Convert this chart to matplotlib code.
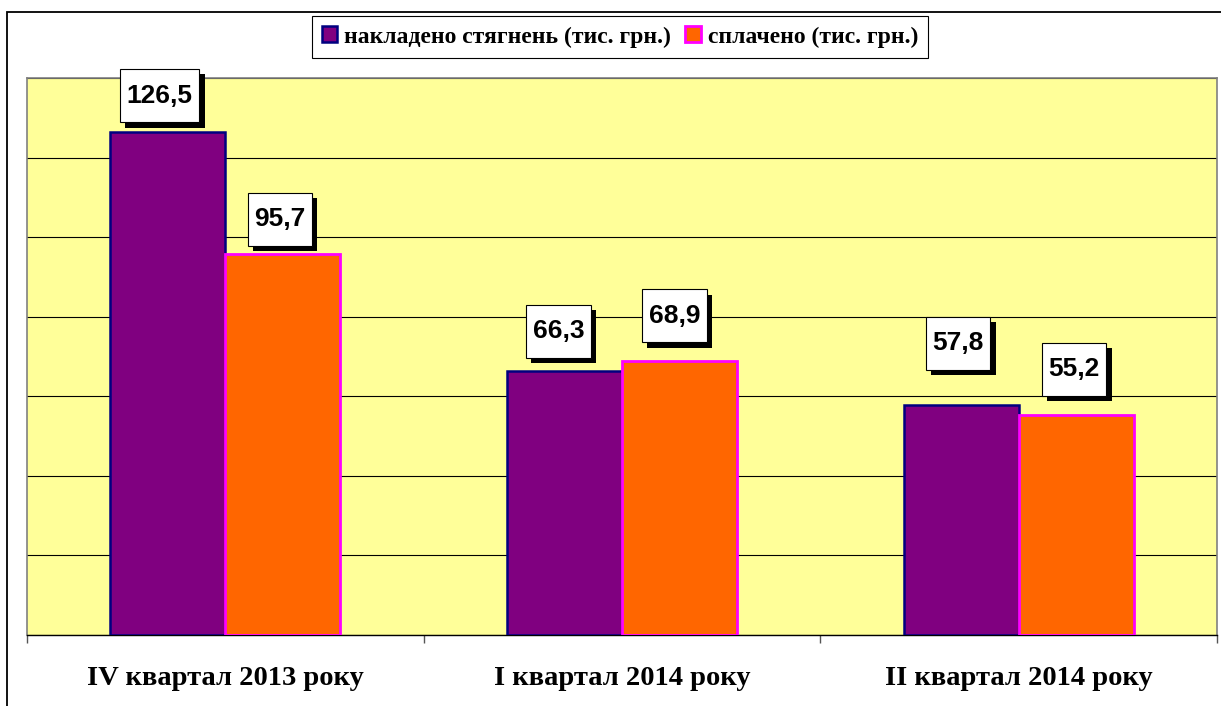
import matplotlib
matplotlib.use("Agg")
import matplotlib.pyplot as plt
import matplotlib.patheffects as pe
from matplotlib.patches import Patch, Rectangle
import numpy as np

# data
categories = ["IV квартал 2013 року", "I квартал 2014 року", "II квартал 2014 року"]
imposed = [126.5, 66.3, 57.8]   # накладено стягнень (тис. грн.)
paid = [95.7, 68.9, 55.2]       # сплачено (тис. грн.)
series_names = ["накладено стягнень (тис. грн.)", "сплачено (тис. грн.)"]

# label box offsets (pixels) from bar top, tuned by eye
imposed_offsets = [(-8, 36), (-6, 40), (-3, 62)]
paid_offsets = [(-3, 35), (-5, 45), (-2, 46)]

plt.rcParams["font.family"] = ["Liberation Sans", "DejaVu Sans"]

fig = plt.figure(figsize=(12.21, 7.06), dpi=100)
ax = fig.add_axes([27 / 1221, 71 / 706, 1190 / 1221, 557 / 706])
ax.set_facecolor("#FFFF99")

# outer chart frame (cropped at right / bottom)
fig.add_artist(Rectangle((7 / 1221, -0.1), 1.2, 1.1 - 12 / 706,
                         transform=fig.transFigure, fill=False,
                         edgecolor="black", linewidth=1.3, clip_on=False))

x = np.arange(len(categories))
w = 0.29
b1 = ax.bar(x - w / 2, imposed, w, color="#800080", edgecolor="#000080",
            linewidth=1.8, zorder=3, label=series_names[0])
b2 = ax.bar(x + w / 2, paid, w, color="#FF6600", edgecolor="#FF00FF",
            linewidth=2.0, zorder=3, label=series_names[1])

ax.set_xlim(-0.5, len(categories) - 0.5)
ax.set_ylim(0, 140)
ax.set_yticks(np.arange(0, 141, 20))
ax.yaxis.grid(True, color="black", linewidth=0.8, zorder=1)
ax.tick_params(axis="y", left=False, labelleft=False)

ax.set_xticks(x)
ax.set_xticklabels(categories, fontfamily="Liberation Serif",
                   fontweight="bold", fontsize=20.5)
ax.tick_params(axis="x", which="major", length=0, pad=22)
ax.set_xticks(np.arange(-0.5, len(categories), 1.0), minor=True)
ax.tick_params(axis="x", which="minor", length=6, color="#555555", width=1)

for side in ["left", "right", "top"]:
    ax.spines[side].set_color("#808080")
    ax.spines[side].set_linewidth(1.2)
ax.spines["bottom"].set_color("black")
ax.spines["bottom"].set_linewidth(1)


def label_bars(bars, vals, offsets):
    for rect, v, (dx, dy) in zip(bars, vals, offsets):
        cx = rect.get_x() + rect.get_width() / 2
        t = ax.annotate(f"{v:.1f}".replace(".", ","), xy=(cx, v),
                        xytext=(dx, dy), textcoords="offset pixels",
                        ha="center", va="center", fontsize=19,
                        fontweight="bold", zorder=5,
                        bbox=dict(boxstyle="square,pad=0.25", mutation_aspect=2.2,
                                  facecolor="white", edgecolor="black",
                                  linewidth=0.8))
        t.get_bbox_patch().set_path_effects([
            pe.SimplePatchShadow(offset=(3.8, -3.8), shadow_rgbFace="black", alpha=1),
            pe.Normal()])


label_bars(b1, imposed, imposed_offsets)
label_bars(b2, paid, paid_offsets)

handles = [Patch(facecolor="#800080", edgecolor="#000080", linewidth=1.8),
           Patch(facecolor="#FF6600", edgecolor="#FF00FF", linewidth=2.0)]
leg = fig.legend(handles, series_names, loc="center",
                 bbox_to_anchor=(620 / 1221, 1 - 37 / 706), ncol=2,
                 prop={"family": "Liberation Serif", "weight": "bold", "size": 17},
                 handlelength=0.65, handleheight=0.65, handletextpad=0.3,
                 columnspacing=0.6, borderpad=0.42, fancybox=False,
                 edgecolor="black", framealpha=1)
leg.get_frame().set_linewidth(0.8)

fig.savefig("out.png", dpi=100)
